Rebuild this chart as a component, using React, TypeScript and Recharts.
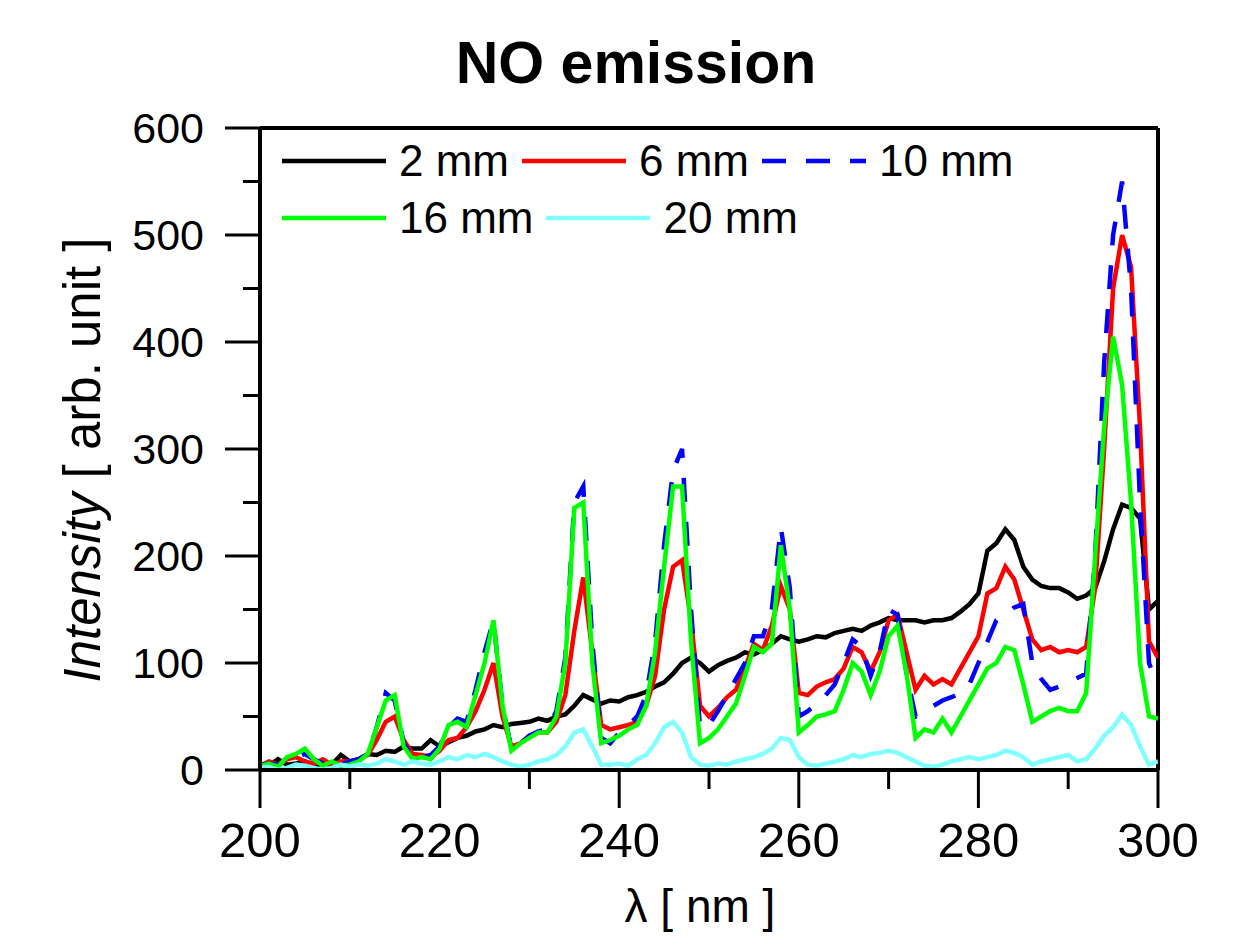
import React from 'react';
import { LineChart, Line, XAxis, YAxis, ReferenceLine, Customized } from 'recharts';

const wavelength = [
  200, 201, 202, 203, 204, 205, 206, 207, 208, 209,
  210, 211, 212, 213, 214, 215, 216, 217, 218, 219,
  220, 221, 222, 223, 224, 225, 226, 227, 228, 229,
  230, 231, 232, 233, 234, 235, 236, 237, 238, 239,
  240, 241, 242, 243, 244, 245, 246, 247, 248, 249,
  250, 251, 252, 253, 254, 255, 256, 257, 258, 259,
  260, 261, 262, 263, 264, 265, 266, 267, 268, 269,
  270, 271, 272, 273, 274, 275, 276, 277, 278, 279,
  280, 281, 282, 283, 284, 285, 286, 287, 288, 289,
  290, 291, 292, 293, 294, 295, 296, 297, 298, 299,
  300,
];

const mm2 = [
  6, 4, 10, 5, 6, 8, 4, 6, 5, 14,
  8, 10, 15, 14, 18, 17, 22, 20, 20, 28,
  22, 26, 30, 32, 36, 38, 42, 40, 43, 44,
  45, 48, 46, 50, 52, 60, 70, 66, 62, 65,
  64, 68, 70, 73, 78, 82, 90, 100, 105, 100,
  92, 98, 102, 105, 110, 108, 112, 118, 125, 122,
  120, 122, 125, 124, 128, 130, 132, 130, 135, 138,
  142, 140, 140, 140, 138, 140, 140, 142, 148, 155,
  165, 205, 212, 225, 215, 190, 178, 172, 170, 170,
  166, 160, 163, 170, 195, 225, 248, 245, 235, 150,
  158,
];

const mm6 = [
  4, 8, 5, 10, 12, 8, 6, 10, 5, 8,
  8, 10, 14, 28, 45, 50, 28, 15, 14, 12,
  18, 28, 30, 40, 55, 75, 100, 50, 22, 25,
  32, 35, 35, 45, 70, 130, 180, 110, 42, 38,
  40, 42, 45, 60, 88, 150, 190, 196, 140, 60,
  50, 58, 68, 75, 95, 118, 112, 135, 172, 150,
  72, 70, 78, 82, 85, 95, 115, 110, 92, 110,
  140, 145, 110, 75, 88, 80, 85, 80, 95, 110,
  125, 165, 170, 190, 178, 150, 122, 112, 115, 110,
  112, 110, 115, 170, 300, 450, 500, 470, 320, 120,
  105,
];

const mm10 = [
  5, 6, 5, 8, 12, 15, 10, 6, 8, 5,
  8, 10, 15, 40, 72, 65, 25, 12, 12, 14,
  22, 40, 48, 45, 75, 110, 140, 60, 20, 25,
  32, 36, 38, 55, 105, 250, 265, 120, 30, 25,
  35, 42, 50, 70, 120, 210, 280, 300, 150, 40,
  42, 55, 70, 85, 100, 125, 125, 150, 227, 170,
  50, 55, 62, 70, 80, 100, 122, 115, 88, 110,
  150, 145, 90, 50, 55, 60, 65, 68, 72, 80,
  100, 120, 140, 145, 152, 155, 100, 85, 75, 78,
  82, 86, 90, 200, 380, 500, 550, 450, 250, 100,
  78,
];

const mm16 = [
  4, 6, 3, 12, 15, 20, 10, 4, 8, 4,
  5, 8, 15, 40, 65, 70, 22, 10, 12, 10,
  20, 42, 45, 40, 70, 100, 140, 60, 18, 25,
  30, 35, 35, 50, 100, 245, 250, 100, 25, 28,
  32, 38, 42, 60, 110, 190, 265, 265, 120, 25,
  30, 38, 50, 62, 88, 115, 110, 118, 210, 150,
  35, 42, 50, 52, 55, 75, 100, 92, 70, 92,
  125, 135, 90, 30, 38, 35, 48, 35, 50, 65,
  80, 95, 100, 115, 112, 80, 45, 50, 55, 58,
  55, 55, 72, 200, 320, 405, 360, 250, 100, 50,
  48,
];

const mm20 = [
  2, 3, 0, 2, 5, 4, 2, 0, 2, 5,
  3, 5, 4, 6, 10, 8, 5, 8, 6, 5,
  8, 12, 10, 14, 12, 15, 12, 8, 5, 3,
  5, 8, 10, 14, 22, 35, 38, 22, 5, 5,
  6, 4, 10, 14, 25, 40, 45, 35, 12, 5,
  4, 6, 5, 8, 10, 12, 15, 20, 30, 28,
  12, 5, 4, 6, 8, 10, 14, 12, 15, 16,
  18, 16, 12, 8, 4, 3, 5, 8, 10, 12,
  10, 12, 14, 18, 16, 12, 5, 8, 10, 12,
  14, 8, 10, 20, 32, 40, 52, 42, 22, 5,
  8,
];

const xTicks = [200, 210, 220, 230, 240, 250, 260, 270, 280, 290, 300];
const xTickLabels = [200, 220, 240, 260, 280, 300];
const yTicks = [0, 50, 100, 150, 200, 250, 300, 350, 400, 450, 500, 550, 600];
const yTickLabels = [0, 100, 200, 300, 400, 500, 600];

const seriesNames = ['2 mm', '6 mm', '10 mm', '16 mm', '20 mm'];
const seriesKeys = ['mm2', 'mm6', 'mm10', 'mm16', 'mm20'];
const seriesColors = ['#000000', '#ff0000', '#0000ff', '#00ff00', '#80ffff'];
const seriesDash = ['', '', '24 20', '', ''];

const titleText = 'NO emission';
const xLabelText = 'λ [ nm ]';

const data = wavelength.map((wl, i) => ({
  wl,
  mm2: mm2[i],
  mm6: mm6[i],
  mm10: mm10[i],
  mm16: mm16[i],
  mm20: mm20[i],
}));

const FONT = '"Liberation Sans", Arial, Helvetica, sans-serif';

const XTick = (props: any) => {
  const { x, y, payload } = props;
  const v = payload.value;
  const major = xTickLabels.includes(v);
  return (
    <g>
      <line x1={x} x2={x} y1={y} y2={y + (major ? 38 : 19)} stroke="#000" strokeWidth={3} />
      {major && (
        <text x={x} y={y + 87} textAnchor="middle" fontFamily={FONT} fontSize={49} fill="#000">
          {v}
        </text>
      )}
    </g>
  );
};

const YTick = (props: any) => {
  const { x, y, payload } = props;
  const v = payload.value;
  const major = yTickLabels.includes(v);
  return (
    <g>
      <line x1={x} x2={x - (major ? 35 : 17)} y1={y} y2={y} stroke="#000" strokeWidth={3} />
      {major && (
        <text x={x - 56} y={y + 15} textAnchor="end" fontFamily={FONT} fontSize={43} fill="#000">
          {v}
        </text>
      )}
    </g>
  );
};

const Texts = () => (
  <g>
    <text x={628} y={75} textAnchor="middle" fontFamily={FONT} fontWeight="bold" fontSize={59} fill="#000">
      {titleText}
    </text>
    <text x={692} y={914} textAnchor="middle" fontFamily={FONT} fontSize={46} fill="#000">
      {xLabelText}
    </text>
    <text
      transform="translate(92, 452) rotate(-90)"
      textAnchor="middle"
      fontFamily={FONT}
      fontSize={51}
      fill="#000"
    >
      <tspan fontStyle="italic">Intensity</tspan>
      <tspan> [ arb. unit ]</tspan>
    </text>
  </g>
);

const legendRows = [[0, 1, 2], [3, 4]];

const LegendBox = () => (
  <div
    style={{
      position: 'absolute',
      left: 274,
      top: 124,
      fontFamily: FONT,
      fontSize: 44,
      color: '#000',
    }}
  >
    {legendRows.map((row, ri) => (
      <div key={ri} style={{ display: 'flex', alignItems: 'center', height: 57, whiteSpace: 'nowrap' }}>
        {row.map((si) => (
          <div key={si} style={{ display: 'flex', alignItems: 'center' }}>
            <svg width={104} height={10} style={{ display: 'block' }}>
              <line
                x1={0}
                x2={104}
                y1={5}
                y2={5}
                stroke={seriesColors[si]}
                strokeWidth={4.5}
                strokeDasharray={seriesDash[si] || undefined}
              />
            </svg>
            <span style={{ marginLeft: 13, marginRight: 13, lineHeight: '57px' }}>{seriesNames[si]}</span>
          </div>
        ))}
      </div>
    ))}
  </div>
);

export default function App() {
  return (
    <div style={{ position: 'relative', width: 1244, height: 930 }}>
      <LineChart
        width={1244}
        height={930}
        data={data}
        margin={{ top: 120, right: 94, bottom: 68, left: 132 }}
      >
        <XAxis
          dataKey="wl"
          type="number"
          domain={[200, 300]}
          ticks={xTicks}
          interval={0}
          tick={<XTick />}
          tickLine={false}
          tickSize={0}
          tickMargin={0}
          axisLine={{ stroke: '#000', strokeWidth: 4 }}
          height={100}
          allowDataOverflow
        />
        <YAxis
          type="number"
          domain={[0, 600]}
          ticks={yTicks}
          interval={0}
          tick={<YTick />}
          tickLine={false}
          tickSize={0}
          tickMargin={0}
          axisLine={{ stroke: '#000', strokeWidth: 4 }}
          width={120}
          allowDataOverflow
        />
        <ReferenceLine y={600} stroke="#000" strokeWidth={4} />
        <ReferenceLine x={300} stroke="#000" strokeWidth={4} />
        {seriesKeys.map((k, i) => (
          <Line
            key={k}
            type="linear"
            dataKey={k}
            name={seriesNames[i]}
            stroke={seriesColors[i]}
            strokeWidth={4.5}
            strokeDasharray={seriesDash[i] || undefined}
            dot={false}
            activeDot={false}
            isAnimationActive={false}
          />
        ))}
        <Customized component={Texts} />
      </LineChart>
      <LegendBox />
      <div
        style={{
          position: 'absolute',
          left: -5,
          top: 100,
          width: 4,
          height: 108,
          background: '#000',
          zIndex: 10,
        }}
      />
    </div>
  );
}
